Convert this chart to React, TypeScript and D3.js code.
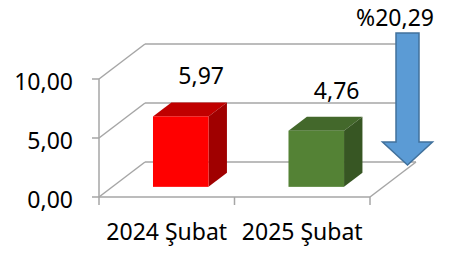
import React, { useEffect, useRef } from 'react';
import * as d3 from 'd3';

// chart data
const categories = ['2024 Şubat', '2025 Şubat'];
const values = [5.97, 4.76];
const valueLabels = ['5,97', '4,76'];
const yTicks = [0, 5, 10];
const yTickLabels = ['0,00', '5,00', '10,00'];
const changeLabel = '%20,29';

const frontColors = ['#ff0000', '#548235'];
const topColors = ['#c00000', '#43682b'];
const sideColors = ['#a00000', '#375623'];

const App = () => {
  const ref = useRef<SVGSVGElement>(null);

  useEffect(() => {
    document.body.style.margin = '0';
    const svg = d3.select(ref.current);
    svg.selectAll('*').remove();

    const font = '"Noto Sans", sans-serif';
    const grid = '#a6a6a6';

    // 3d depth of the floor
    const depthX = 46;
    const depthY = -35;
    const barFront = 0.29;
    const barBack = 0.69;

    const x = d3.scaleBand().domain(categories).range([99, 370]).paddingInner(0).paddingOuter(0);
    const y = d3.scaleLinear().domain([0, 10]).range([197, 79]);

    const g = svg.append('g');

    // left wall + back wall gridlines
    yTicks.forEach((t) => {
      g.append('line')
        .attr('x1', 99).attr('y1', y(t))
        .attr('x2', 99 + depthX).attr('y2', y(t) + depthY)
        .attr('stroke', grid).attr('stroke-width', 1.5);
      g.append('line')
        .attr('x1', 99 + depthX).attr('y1', y(t) + depthY)
        .attr('x2', 370 + depthX).attr('y2', y(t) + depthY)
        .attr('stroke', grid).attr('stroke-width', 1.5);
      // ticks
      g.append('line')
        .attr('x1', 92).attr('y1', y(t))
        .attr('x2', 99).attr('y2', y(t))
        .attr('stroke', grid).attr('stroke-width', 1.5);
    });

    // y axis line
    g.append('line')
      .attr('x1', 99).attr('y1', y(0))
      .attr('x2', 99).attr('y2', y(10))
      .attr('stroke', grid).attr('stroke-width', 1.5);

    // floor front + right edge
    g.append('line')
      .attr('x1', 99).attr('y1', y(0))
      .attr('x2', 370).attr('y2', y(0))
      .attr('stroke', grid).attr('stroke-width', 1.5);
    g.append('line')
      .attr('x1', 370).attr('y1', y(0))
      .attr('x2', 370 + depthX).attr('y2', y(0) + depthY)
      .attr('stroke', grid).attr('stroke-width', 1.5);

    // category ticks
    const edges = [...categories.map((c) => x(c) as number), 370];
    edges.forEach((e) => {
      g.append('line')
        .attr('x1', e).attr('y1', y(0))
        .attr('x2', e).attr('y2', y(0) + 8)
        .attr('stroke', grid).attr('stroke-width', 1.5);
    });

    // y labels
    yTicks.forEach((t, i) => {
      g.append('text')
        .attr('x', 73).attr('y', y(t) + 11)
        .attr('text-anchor', 'end')
        .attr('font-family', font).attr('font-size', 23)
        .attr('fill', '#000')
        .text(yTickLabels[i]);
    });

    // category labels
    categories.forEach((c) => {
      g.append('text')
        .attr('x', (x(c) as number) + x.bandwidth() / 2)
        .attr('y', 240)
        .attr('text-anchor', 'middle')
        .attr('font-family', font).attr('font-size', 23)
        .attr('fill', '#000')
        .text(c);
    });

    // bars
    const bw = x.bandwidth() * 0.41;
    const bOff = x.bandwidth() * 0.3;
    const fdx = depthX * barFront, fdy = depthY * barFront;
    const bdx = depthX * (barBack - barFront), bdy = depthY * (barBack - barFront);

    categories.forEach((c, i) => {
      const x0 = (x(c) as number) + bOff + fdx;
      const x1 = x0 + bw;
      const yb = y(0) + fdy;
      const yt = y(values[i]) + fdy;
      const bar = g.append('g');
      // top
      bar.append('polygon')
        .attr('points', [[x0, yt], [x0 + bdx, yt + bdy], [x1 + bdx, yt + bdy], [x1, yt]].map((p) => p.join(',')).join(' '))
        .attr('fill', topColors[i]);
      // side
      bar.append('polygon')
        .attr('points', [[x1, yt], [x1 + bdx, yt + bdy], [x1 + bdx, yb + bdy], [x1, yb]].map((p) => p.join(',')).join(' '))
        .attr('fill', sideColors[i]);
      // front
      bar.append('rect')
        .attr('x', x0).attr('y', yt)
        .attr('width', bw).attr('height', yb - yt)
        .attr('fill', frontColors[i]);

      g.append('text')
        .attr('x', x0 + bdx + bw / 2 + 2)
        .attr('y', yt + bdy - 18)
        .attr('text-anchor', 'middle')
        .attr('font-family', font).attr('font-size', 23)
        .attr('fill', '#000')
        .text(valueLabels[i]);
    });

    // down arrow
    const ax = 407.5;
    const arrow = [
      [ax - 11.5, 33], [ax + 11.5, 33], [ax + 11.5, 142], [ax + 25, 142],
      [ax, 165], [ax - 25, 142], [ax - 11.5, 142],
    ];
    g.append('polygon')
      .attr('points', arrow.map((p) => p.join(',')).join(' '))
      .attr('fill', '#5b9bd5')
      .attr('stroke', '#41719c')
      .attr('stroke-width', 1.5);

    g.append('text')
      .attr('x', 395).attr('y', 26)
      .attr('text-anchor', 'middle')
      .attr('font-family', font).attr('font-size', 23)
      .attr('fill', '#000')
      .text(changeLabel);
  }, []);

  return <svg ref={ref} width={455} height={253} style={{ display: 'block', background: '#fff' }}></svg>;
};

export default App;
